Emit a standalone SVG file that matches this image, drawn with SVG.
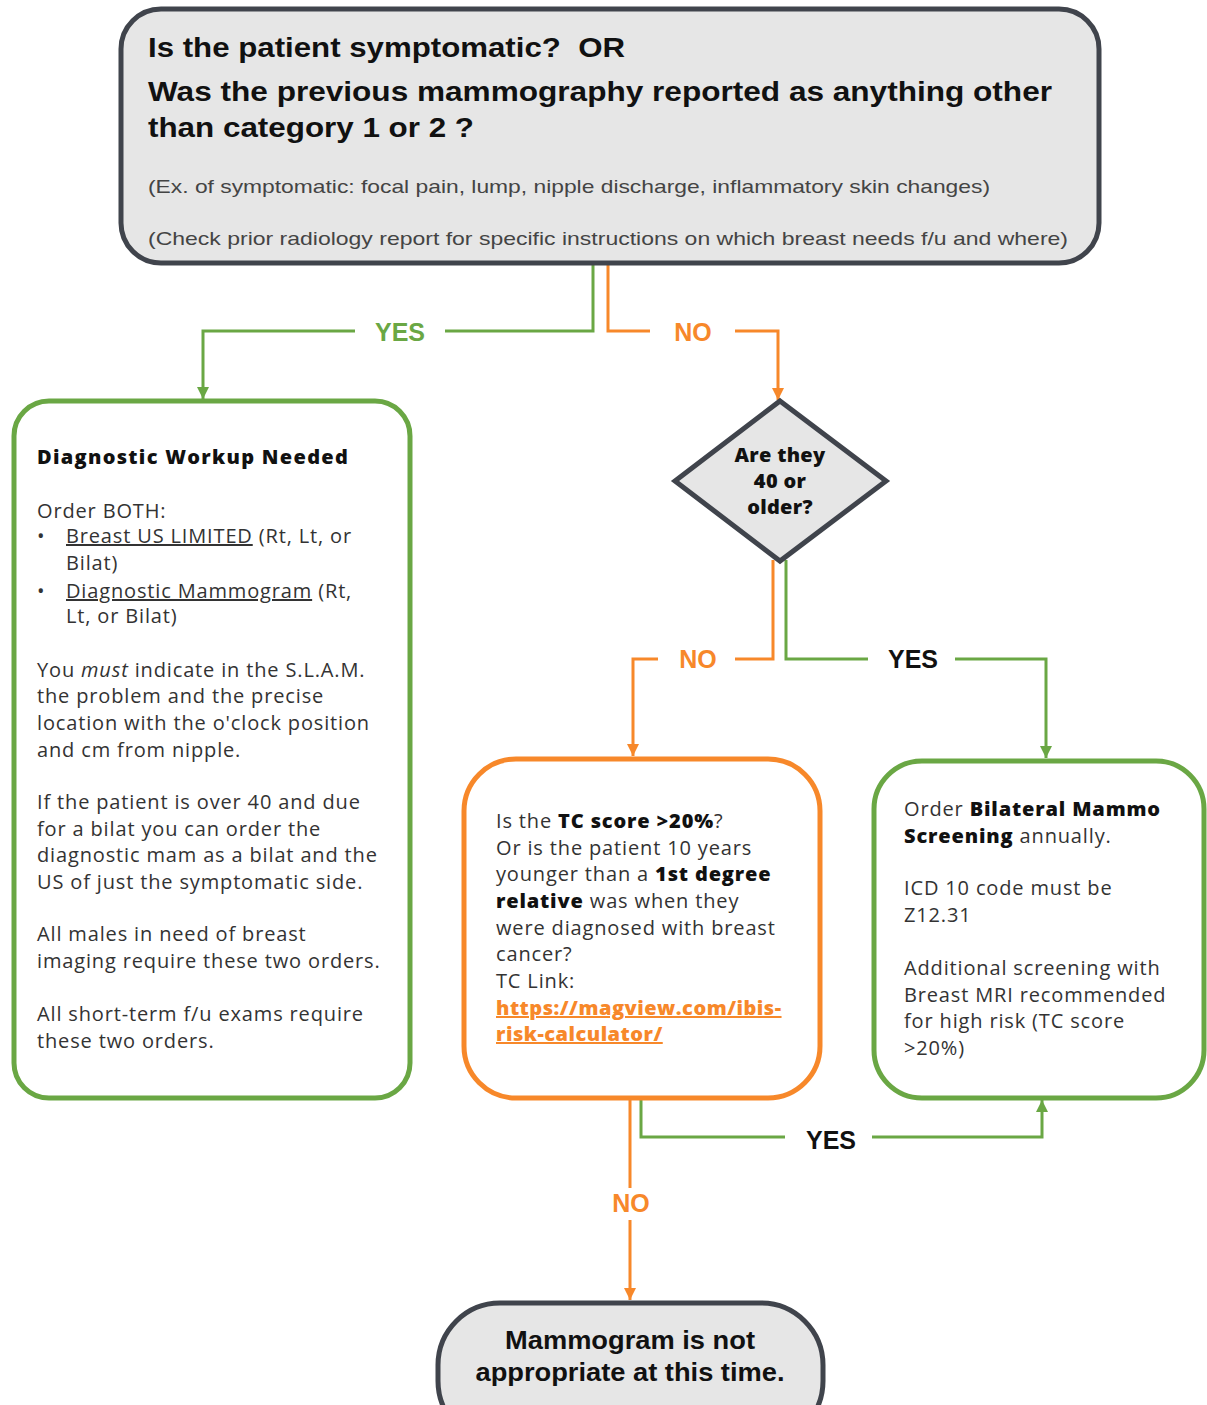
<svg xmlns="http://www.w3.org/2000/svg" width="1207" height="1405" viewBox="0 0 1207 1405">
<style>
.box{stroke-width:5}
.gray{fill:#e6e6e6;stroke:#40444c}
.gbox{fill:#ffffff;stroke:#6aa744}
.obox{fill:#ffffff;stroke:#f7882a}
.head{font-family:"Liberation Sans",Arial,sans-serif;font-weight:700;fill:#111}
.sub{font-family:"Liberation Sans",Arial,sans-serif;fill:#444;font-size:19px}
.body{font-family:"Open Sans","Liberation Sans",sans-serif;font-size:20px;fill:#333;letter-spacing:0.85px}
.b{font-weight:800;fill:#111}
.link{font-weight:800;fill:#f7882a;text-decoration:underline;letter-spacing:0.5px}
.lbl{font-family:"Liberation Sans",Arial,sans-serif;font-weight:700;font-size:25px;text-anchor:middle}
.gl{stroke:#6aa744;stroke-width:3;fill:none}
.ol{stroke:#f7882a;stroke-width:3;fill:none}
</style>
<defs>
<marker id="ag" markerUnits="userSpaceOnUse" markerWidth="14" markerHeight="14" refX="12" refY="6" orient="auto">
<path d="M0,0 L12,6 L0,12 z" fill="#6aa744"/>
</marker>
<marker id="ao" markerUnits="userSpaceOnUse" markerWidth="14" markerHeight="14" refX="12" refY="6" orient="auto">
<path d="M0,0 L12,6 L0,12 z" fill="#f7882a"/>
</marker>
</defs>

<g id="connectors">
<path class="gl" d="M593,263 V331 H445 M355,331 H203 V399" marker-end="url(#ag)"/>
<text class="lbl" x="400" y="341" fill="#6aa744">YES</text>
<path class="ol" d="M608,263 V331 H650 M735,331 H778 V400" marker-end="url(#ao)"/>
<text class="lbl" x="693" y="341" fill="#f7882a">NO</text>
<path class="ol" d="M773,560 V659 H735 M658,659 H633 V756" marker-end="url(#ao)"/>
<text class="lbl" x="698" y="668" fill="#f7882a">NO</text>
<path class="gl" d="M786,560 V659 H868 M955,659 H1046 V758" marker-end="url(#ag)"/>
<text class="lbl" x="913" y="668" fill="#111">YES</text>
<path class="ol" d="M630,1098 V1188 M630,1220 V1300" marker-end="url(#ao)"/>
<text class="lbl" x="631" y="1212" fill="#f7882a">NO</text>
<path class="gl" d="M641,1098 V1137 H785 M872,1137 H1042 V1100" marker-end="url(#ag)"/>
<text class="lbl" x="831" y="1149" fill="#111">YES</text>
</g>

<g id="start">
<rect class="box gray" x="121" y="9" width="978" height="254" rx="40"/>
<text class="head" x="148" y="57" font-size="28" textLength="477" lengthAdjust="spacingAndGlyphs" xml:space="preserve">Is the patient symptomatic?  OR</text>
<text class="head" x="148" y="101" font-size="28" textLength="904" lengthAdjust="spacingAndGlyphs">Was the previous mammography reported as anything other</text>
<text class="head" x="148" y="137" font-size="28" textLength="326" lengthAdjust="spacingAndGlyphs">than category 1 or 2 ?</text>
<text class="sub" x="148" y="193" textLength="842" lengthAdjust="spacingAndGlyphs">(Ex. of symptomatic: focal pain, lump, nipple discharge, inflammatory skin changes)</text>
<text class="sub" x="148" y="245" textLength="920" lengthAdjust="spacingAndGlyphs">(Check prior radiology report for specific instructions on which breast needs f/u and where)</text>
</g>

<g id="age">
<polygon class="box gray" points="780,401 886,481 780,561 675,481"/>
<text class="body b" x="780" y="462" text-anchor="middle" style="letter-spacing:0.3px">Are they</text>
<text class="body b" x="780" y="488" text-anchor="middle" style="letter-spacing:0.3px">40 or</text>
<text class="body b" x="780" y="514" text-anchor="middle" style="letter-spacing:0.3px">older?</text>
</g>

<g id="diagnostic">
<rect class="box gbox" x="14" y="401" width="396" height="697" rx="35"/>
<text class="body b" x="37" y="464" style="letter-spacing:1.3px">Diagnostic Workup Needed</text>
<text class="body" x="37" y="518">Order BOTH:</text>
<text class="body" x="37" y="543">•</text>
<text class="body" x="66" y="543"><tspan text-decoration="underline">Breast US LIMITED</tspan> (Rt, Lt, or</text>
<text class="body" x="66" y="570">Bilat)</text>
<text class="body" x="37" y="598">•</text>
<text class="body" x="66" y="598"><tspan text-decoration="underline">Diagnostic Mammogram</tspan> (Rt,</text>
<text class="body" x="66" y="623">Lt, or Bilat)</text>
<text class="body" x="37" y="677">You <tspan font-style="italic">must</tspan> indicate in the S.L.A.M.</text>
<text class="body" x="37" y="703">the problem and the precise</text>
<text class="body" x="37" y="730">location with the o'clock position</text>
<text class="body" x="37" y="757">and cm from nipple.</text>
<text class="body" x="37" y="809">If the patient is over 40 and due</text>
<text class="body" x="37" y="836">for a bilat you can order the</text>
<text class="body" x="37" y="862">diagnostic mam as a bilat and the</text>
<text class="body" x="37" y="889">US of just the symptomatic side.</text>
<text class="body" x="37" y="941">All males in need of breast</text>
<text class="body" x="37" y="968">imaging require these two orders.</text>
<text class="body" x="37" y="1021">All short-term f/u exams require</text>
<text class="body" x="37" y="1048">these two orders.</text>
</g>

<g id="risk">
<rect class="box obox" x="464" y="759" width="356" height="339" rx="52"/>
<text class="body" x="496" y="828">Is the <tspan class="b">TC score &gt;20%</tspan>?</text>
<text class="body" x="496" y="855">Or is the patient 10 years</text>
<text class="body" x="496" y="881">younger than a <tspan class="b">1st degree</tspan></text>
<text class="body" x="496" y="908"><tspan class="b">relative</tspan> was when they</text>
<text class="body" x="496" y="935">were diagnosed with breast</text>
<text class="body" x="496" y="961">cancer?</text>
<text class="body" x="496" y="988">TC Link:</text>
<text class="body link" x="496" y="1015">https://magview.com/ibis-</text>
<text class="body link" x="496" y="1041">risk-calculator/</text>
</g>

<g id="screening">
<rect class="box gbox" x="874" y="761" width="330" height="337" rx="48"/>
<text class="body" x="904" y="816">Order <tspan class="b">Bilateral Mammo</tspan></text>
<text class="body" x="904" y="843"><tspan class="b">Screening</tspan> annually.</text>
<text class="body" x="904" y="895">ICD 10 code must be</text>
<text class="body" x="904" y="922">Z12.31</text>
<text class="body" x="904" y="975">Additional screening with</text>
<text class="body" x="904" y="1002">Breast MRI recommended</text>
<text class="body" x="904" y="1028">for high risk (TC score</text>
<text class="body" x="904" y="1055">&gt;20%)</text>
</g>

<g id="not-appropriate">
<rect class="box gray" x="438" y="1303" width="385" height="140" rx="62"/>
<text class="head" x="630" y="1349" font-size="25" text-anchor="middle" textLength="250" lengthAdjust="spacingAndGlyphs">Mammogram is not</text>
<text class="head" x="630" y="1381" font-size="25" text-anchor="middle" textLength="309" lengthAdjust="spacingAndGlyphs">appropriate at this time.</text>
</g>
</svg>
